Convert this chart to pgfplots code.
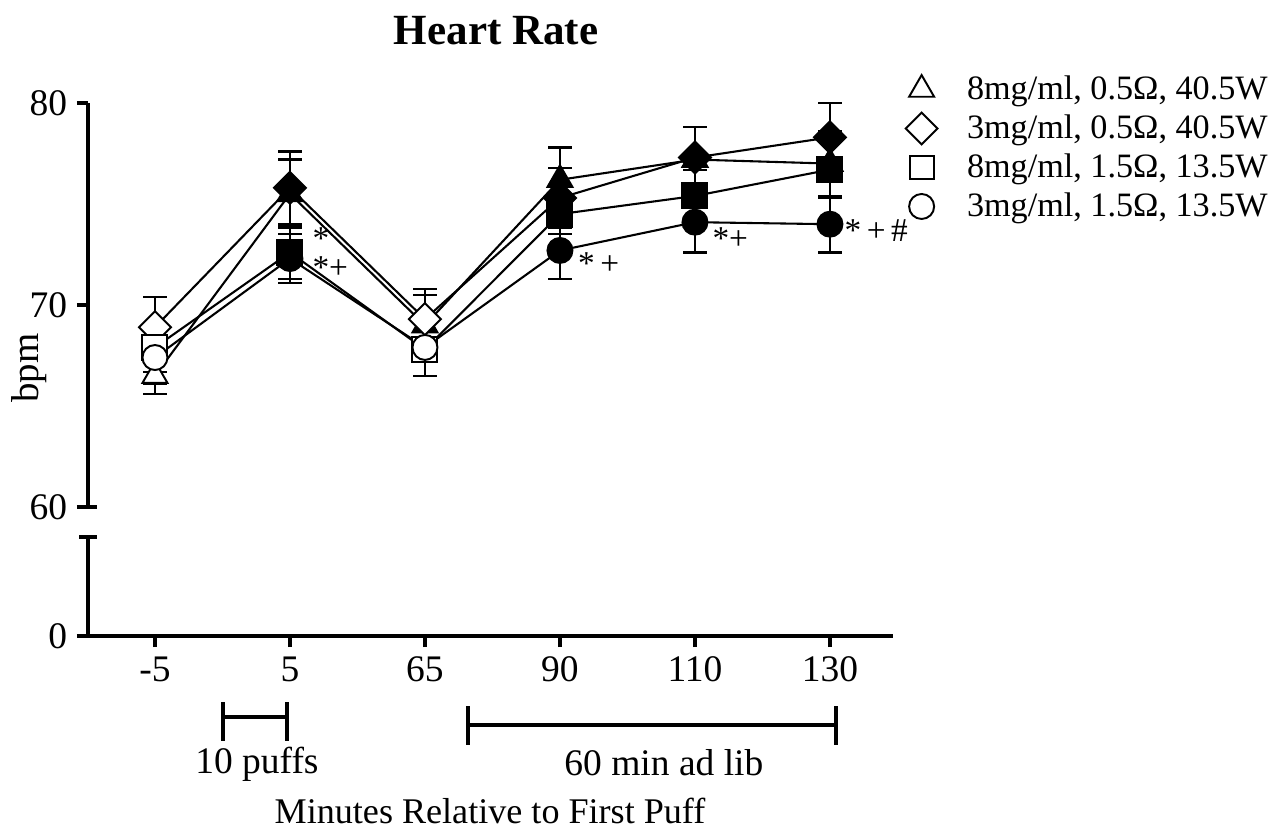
\documentclass[border=0pt]{standalone}
\usepackage{fontspec}
\setmainfont{Liberation Serif}
\usepackage{pgfplots}
\usepackage{pgfplotstable}
\pgfplotsset{compat=1.18}

% x = category index (-5,5,65,90,110,130), y = bpm, e = SEM, f = filled marker
\pgfplotstableread{
x y e f
0 66.5 0.9 0
1 75.5 1.7 1
2 69.0 1.5 1
3 76.2 1.6 1
4 77.2 1.6 1
5 77.0 1.6 1
}\triA
\pgfplotstableread{
x y e f
0 68.9 1.5 0
1 75.8 1.8 1
2 69.3 1.5 0
3 75.3 1.5 1
4 77.3 1.5 1
5 78.3 1.7 1
}\diaB
\pgfplotstableread{
x y e f
0 67.9 1.2 0
1 72.6 1.3 1
2 67.8 1.3 0
3 74.5 1.0 1
4 75.4 1.3 1
5 76.7 1.4 1
}\squC
\pgfplotstableread{
x y e f
0 67.4 1.3 0
1 72.3 1.2 1
2 67.9 1.4 0
3 72.7 1.4 1
4 74.1 1.5 1
5 74.0 1.4 1
}\cirD

\newcommand{\series}[2]{%
\addplot[black, line width=0.75pt, mark=none, forget plot,
  error bars/.cd, y dir=both, y explicit,
  error bar style={line width=0.8pt, black},
  error mark options={rotate=90, mark size=4.3pt, line width=0.8pt, black}]
  table[x=x,y=y,y error=e]{#1};
\addplot[only marks, forget plot, mark options={#2, draw=black, fill=white, line width=0.7pt},
  restrict expr to domain={\thisrow{f}}{-0.5:0.5}, unbounded coords=discard]
  table[x=x,y=y]{#1};
\addplot[only marks, forget plot, mark options={#2, draw=black, fill=black, line width=0.7pt},
  restrict expr to domain={\thisrow{f}}{0.5:1.5}, unbounded coords=discard]
  table[x=x,y=y]{#1};
}

\begin{document}
\begin{tikzpicture}
\useasboundingbox (0,0) rectangle (459.72pt,297.72pt);

% upper segment 60-80
\begin{axis}[
  at={(31.68pt,115.2pt)}, anchor=south west,
  scale only axis, width=289.8pt, height=145.44pt,
  xmin=-0.496, xmax=5.467, ymin=60, ymax=80,
  axis x line=none, axis y line=left,
  axis line style={-, line width=1.5pt, black},
  ytick={60,70,80}, xtick=\empty,
  tick align=outside, major tick length=4pt,
  tick style={line width=1.5pt, black},
  yticklabel style={font=\fontsize{13.5}{13.5}\selectfont},
  /pgf/number format/assume math mode=true,
  clip=false,
  legend cell align=left,
  legend style={at={(1.015,1.083)}, anchor=north west, draw=none, fill=none,
    inner sep=0pt, row sep=0pt, font=\fontsize{12.3}{12.3}\selectfont,
    /tikz/every odd column/.append style={column sep=8.6pt}},
]
\series{\triA}{mark=triangle*, mark size=5.2pt}
\series{\diaB}{mark=square*, mark size=4.07pt, rotate=45}
\series{\squC}{mark=square*, mark size=4.5pt}
\series{\cirD}{mark=*, mark size=4.5pt}

\addlegendimage{only marks, mark=triangle*, mark options={draw=black, fill=white, line width=0.7pt}, mark size=5.2pt}
\addlegendentry{8mg/ml, 0.5Ω, 40.5W}
\addlegendimage{only marks, mark=square*, mark options={rotate=45, draw=black, fill=white, line width=0.7pt}, mark size=4.07pt}
\addlegendentry{3mg/ml, 0.5Ω, 40.5W}
\addlegendimage{only marks, mark=square*, mark options={draw=black, fill=white, line width=0.7pt}, mark size=4.3pt}
\addlegendentry{8mg/ml, 1.5Ω, 13.5W}
\addlegendimage{only marks, mark=*, mark options={draw=black, fill=white, line width=0.7pt}, mark size=4.5pt}
\addlegendentry{3mg/ml, 1.5Ω, 13.5W}

\begin{scope}[every node/.style={font=\fontsize{12}{12}\selectfont, inner sep=0pt, anchor=base west}]
\node at (axis cs:1.163,72.75) {*};
\node at (axis cs:1.163,71.3) {*+};
\node at (axis cs:3.13,71.53) {*\,+};
\node at (axis cs:4.126,72.77) {*+};
\node at (axis cs:5.104,73.12) {*\,+\,\#};
\end{scope}
\end{axis}

% lower segment with 0
\begin{axis}[
  at={(31.68pt,68.76pt)}, anchor=south west,
  scale only axis, width=289.8pt, height=35.64pt,
  xmin=-0.496, xmax=5.467, ymin=0, ymax=1,
  axis x line=bottom, axis y line=left,
  axis line style={-, line width=1.5pt, black},
  ytick={0}, xtick={0,1,2,3,4,5},
  xticklabels={-5,5,65,90,110,130},
  tick align=outside, major tick length=4pt,
  tick style={line width=1.5pt, black},
  ticklabel style={font=\fontsize{13.5}{13.5}\selectfont},
  /pgf/number format/assume math mode=true,
  clip=false,
]
\addplot[draw=none, forget plot] coordinates {(0,0)};
\end{axis}

% break caps
\draw[line width=1.5pt] (28.44pt,115.2pt) -- (34.92pt,115.2pt);
\draw[line width=1.5pt] (28.44pt,104.4pt) -- (34.92pt,104.4pt);

% brackets
\draw[line width=1.3pt] (80.3pt,39.6pt) -- (103.3pt,39.6pt);
\draw[line width=1.4pt] (80.3pt,45.0pt) -- (80.3pt,30.96pt);
\draw[line width=1.4pt] (103.3pt,45.0pt) -- (103.3pt,30.96pt);
\draw[line width=1.3pt] (168.5pt,36.72pt) -- (300.9pt,36.72pt);
\draw[line width=1.4pt] (168.5pt,43.56pt) -- (168.5pt,29.52pt);
\draw[line width=1.4pt] (300.9pt,43.56pt) -- (300.9pt,29.52pt);
\node[font=\fontsize{13.5}{13.5}\selectfont, anchor=base] at (92.5pt,19.44pt) {10 puffs};
\node[font=\fontsize{13.5}{13.5}\selectfont, anchor=base] at (239pt,18.72pt) {60 min ad lib};

% labels
\node[font=\fontsize{13}{13}\selectfont, anchor=base] at (176.4pt,1.44pt) {Minutes Relative to First Puff};
\node[font=\bfseries\fontsize{15.5}{15.5}\selectfont] at (178.6pt,286.6pt) {Heart Rate};
\node[font=\fontsize{14}{14}\selectfont, rotate=90] at (10.4pt,165.2pt) {bpm};
\end{tikzpicture}
\end{document}
